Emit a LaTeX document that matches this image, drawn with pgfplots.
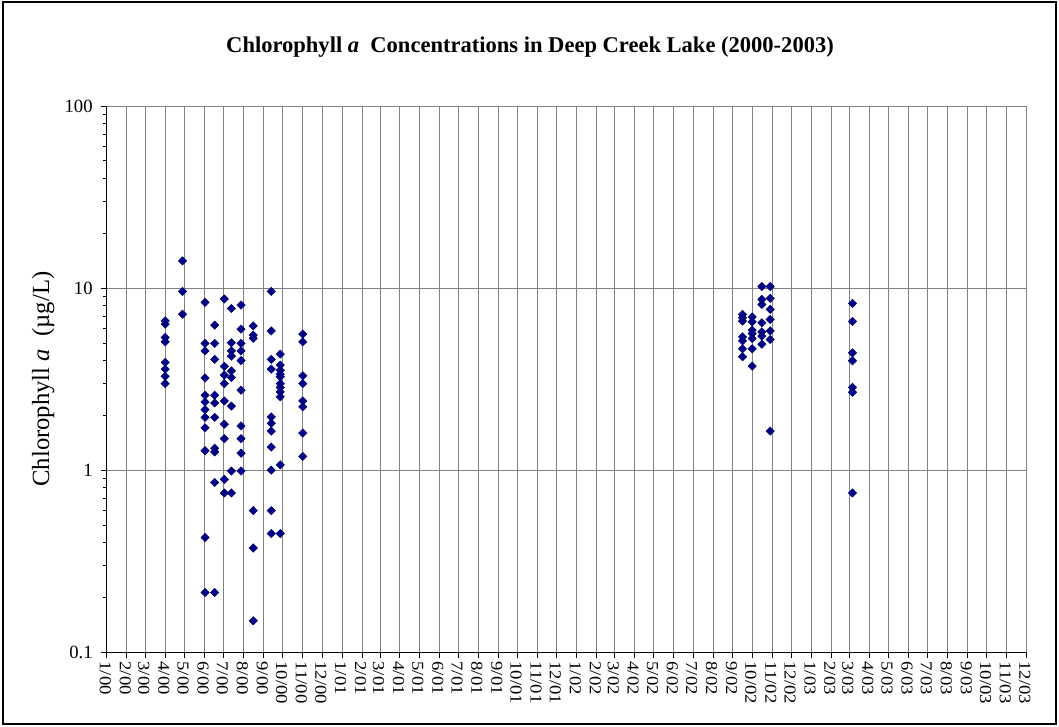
\documentclass[border=0pt]{standalone}
\usepackage{fontspec}
\setmainfont{Liberation Serif}
\usepackage{pgfplots}
\pgfplotsset{compat=1.18}
\definecolor{navy}{RGB}{0,0,128}
\definecolor{gridgray}{RGB}{128,128,128}
\pgfplotstableread{
x y
91 6.61
91 6.34
91 5.36
91 5.07
91 3.91
91 3.59
91 3.28
91 2.99
118 14.1
118 9.59
118 7.19
153 8.35
153 4.97
153 4.52
153 3.21
153 2.58
153 2.37
153 2.15
153 1.95
153 1.71
153 1.28
153 0.427
153 0.213
168 6.26
168 4.97
168 4.06
168 2.58
168 2.34
168 1.95
168 1.32
168 1.26
168 0.856
168 0.213
183 8.72
183 3.72
183 3.33
183 2.99
183 2.40
183 1.79
183 1.49
183 0.89
183 0.75
194 7.73
194 5.01
194 4.52
194 4.23
194 3.51
194 3.23
194 2.25
194 0.99
194 0.75
209 8.07
209 5.95
209 4.97
209 4.52
209 4.00
209 2.75
209 1.75
209 1.49
209 1.24
209 0.99
228 6.20
228 5.52
228 5.30
228 0.60
228 0.374
228 0.149
256 9.59
256 5.82
256 4.06
256 3.59
256 1.96
256 1.81
256 1.64
256 1.34
256 1.00
256 0.60
256 0.449
270 4.34
270 3.78
270 3.54
270 3.37
270 3.26
270 2.99
270 2.85
270 2.69
270 2.53
270 1.07
270 0.449
305 5.59
305 5.07
305 3.30
305 2.99
305 2.40
305 2.23
305 1.60
305 1.19
989 7.17
989 6.87
989 6.59
989 5.40
989 5.13
989 4.64
989 4.20
1004 6.95
1004 6.53
1004 5.88
1004 5.63
1004 5.29
1004 4.64
1004 3.73
1019 10.2
1019 8.67
1019 8.13
1019 6.45
1019 5.75
1019 5.45
1019 4.92
1032 10.2
1032 8.78
1032 7.64
1032 6.73
1032 5.82
1032 5.22
1032 1.64
1160 8.24
1160 6.56
1160 4.41
1160 3.99
1160 2.85
1160 2.68
1160 0.75
}\chla
\begin{document}
\begin{tikzpicture}
\begin{axis}[
 at={(0pt,0pt)}, anchor=south west,
 scale only axis, width=689.5pt, height=409.7pt,
 xmin=0, xmax=1430, ymode=log, ymin=0.1, ymax=100,
 axis x line=bottom, axis y line=left,
 axis line style={-, black, line width=0.8pt},
 xtick={0,31,60,91,121,152,182,213,244,274,305,335,366,397,425,456,486,517,547,578,609,639,670,700,731,762,790,821,851,882,912,943,974,1004,1035,1065,1096,1127,1155,1186,1216,1247,1277,1308,1339,1369,1400,1430},
 xticklabels={1/00,2/00,3/00,4/00,5/00,6/00,7/00,8/00,9/00,10/00,11/00,12/00,1/01,2/01,3/01,4/01,5/01,6/01,7/01,8/01,9/01,10/01,11/01,12/01,1/02,2/02,3/02,4/02,5/02,6/02,7/02,8/02,9/02,10/02,11/02,12/02,1/03,2/03,3/03,4/03,5/03,6/03,7/03,8/03,9/03,10/03,11/03,12/03},
 ytick={0.1,1,10,100}, yticklabels={0.1,1,10,100},
 minor ytick={0.2,0.3,0.4,0.5,0.6,0.7,0.8,0.9,2,3,4,5,6,7,8,9,20,30,40,50,60,70,80,90},
 tick align=outside,
 major tick length=4.5pt, minor tick length=3pt,
 tick style={black, line width=0.6pt},
 xmajorgrids, ymajorgrids,
 major grid style={gridgray, line width=0.6pt},
 x tick label style={rotate=-90, xscale=1.12, anchor=west, font=\fontsize{12.5}{13}\selectfont, inner sep=2pt, yshift=-1pt},
 y tick label style={font=\fontsize{14}{15}\selectfont, xshift=-2.5pt},
 clip=false,
]
\addplot[only marks, mark=square*, mark size=2.2pt, mark options={rotate=45, fill=navy, draw=navy}] table {\chla};
\node[rotate=90, font=\fontsize{18.5}{20}\selectfont] at (rel axis cs:-0.069,0.5) {Chlorophyll \textit{a}\ \ (µg/L)};
\end{axis}
\node[font=\fontsize{16.9}{19}\selectfont\bfseries] at (317.5pt,454pt) {Chlorophyll \textit{a}\ \ Concentrations in Deep Creek Lake (2000-2003)};
\pgfresetboundingbox
\path[use as bounding box] (-80.0pt,-56.0pt) rectangle (714.2pt,489.2pt);
\draw[line width=1.5pt] (-77.4pt,-54.1pt) rectangle (711.6pt,487.35pt);
\end{tikzpicture}
\end{document}
